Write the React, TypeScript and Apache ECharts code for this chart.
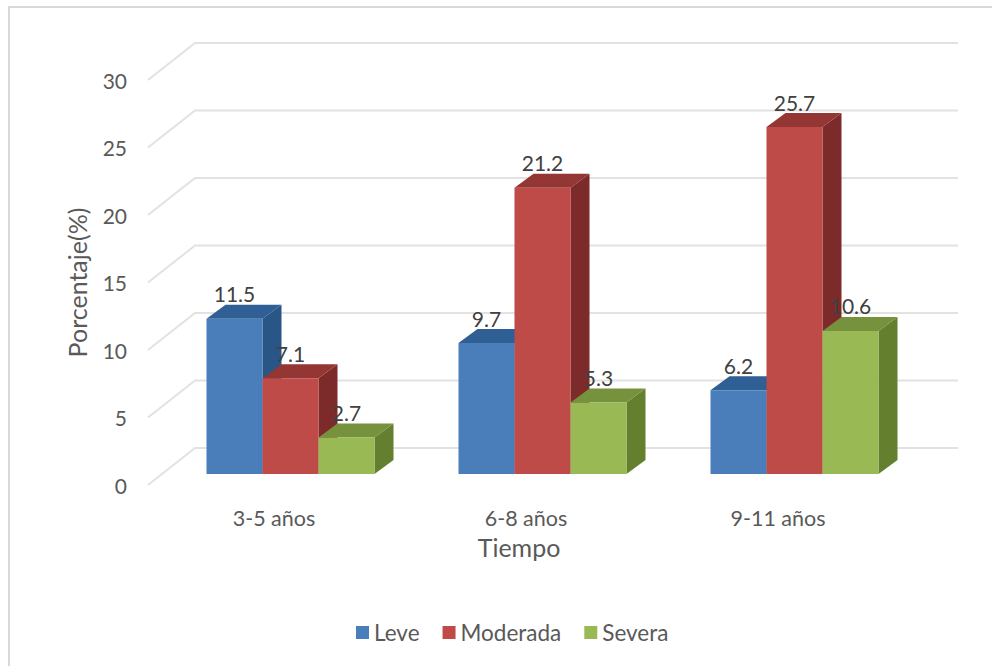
import React, { useEffect, useRef } from "react";
import * as echarts from "echarts";

const categories = ["3-5 años", "6-8 años", "9-11 años"];
const leve = [11.5, 9.7, 6.2];
const moderada = [7.1, 21.2, 25.7];
const severa = [2.7, 5.3, 10.6];
const yTicks = [0, 5, 10, 15, 20, 25, 30];

const FONT = "Lato";
const WALL_DX = 47;
const WALL_DY = -37;
const WALL_END = 958;
const BAR_SHIFT_X = 16.5;
const BAR_SHIFT_Y = -11;
const BAR_DEPTH_X = 19;
const BAR_DEPTH_Y = -14;
const BAR_BAND_RATIO = 56 / 252;

// Back wall and side wall rules of the pseudo-3D plot box.
function renderWallLine(params: any, api: any) {
  const y = api.coord([0, api.value(1)])[1];
  const left = params.coordSys.x;
  return {
    type: "polyline",
    silent: true,
    shape: {
      points: [
        [left, y],
        [left + WALL_DX, y + WALL_DY],
        [WALL_END, y + WALL_DY],
      ],
    },
    style: { fill: "none", stroke: "#E2E2E2", lineWidth: 2 },
  };
}

// Returns a renderItem drawing one extruded bar: front, top and side faces plus its value.
function barRenderer(slot: number, front: string, top: string, side: string) {
  return (_params: any, api: any) => {
    const cat = api.value(0);
    const value = api.value(1);
    const width = api.size([1, 0])[0] * BAR_BAND_RATIO;
    const centre = api.coord([cat, value])[0] + BAR_SHIFT_X + slot * width;
    const x0 = centre - width / 2;
    const x1 = centre + width / 2;
    const yTop = api.coord([cat, value])[1] + BAR_SHIFT_Y;
    const yBase = api.coord([cat, 0])[1] + BAR_SHIFT_Y;
    const dx = BAR_DEPTH_X;
    const dy = BAR_DEPTH_Y;
    return {
      type: "group",
      children: [
        {
          type: "polygon",
          shape: { points: [[x1, yTop], [x1 + dx, yTop + dy], [x1 + dx, yBase + dy], [x1, yBase]] },
          style: { fill: side },
        },
        {
          type: "polygon",
          shape: { points: [[x0, yTop], [x0 + dx, yTop + dy], [x1 + dx, yTop + dy], [x1, yTop]] },
          style: { fill: top },
        },
        {
          type: "rect",
          shape: { x: x0, y: yTop, width: x1 - x0, height: yBase - yTop },
          style: { fill: front },
        },
        {
          type: "text",
          style: {
            text: value.toFixed(1),
            x: centre,
            y: yTop - 25,
            align: "center",
            verticalAlign: "middle",
            fill: "#404040",
            fontSize: 21,
            fontFamily: FONT,
          },
        },
      ],
    };
  };
}

function barSeries(name: string, values: number[], slot: number, colors: string[]) {
  return {
    name,
    type: "custom",
    clip: false,
    itemStyle: { color: colors[0] },
    data: values.map((v, i) => [i, v]),
    encode: { x: 0, y: 1 },
    renderItem: barRenderer(slot, colors[0], colors[1], colors[2]),
  };
}

export default function App() {
  const ref = useRef<HTMLDivElement>(null);

  useEffect(() => {
    const chart = echarts.init(ref.current, null, { renderer: "svg" });
    chart.setOption({
      animation: false,
      backgroundColor: "#FFFFFF",
      textStyle: { fontFamily: FONT },
      grid: { left: 148, top: 80, width: 756, height: 405, containLabel: false },
      graphic: [
        {
          type: "rect",
          silent: true,
          z: -1,
          shape: { x: 9, y: 7, width: 1100, height: 800 },
          style: { fill: "none", stroke: "#D9D9D9", lineWidth: 2 },
        },
      ],
      legend: {
        data: ["Leve", "Moderada", "Severa"],
        left: 351,
        top: 616,
        icon: "rect",
        itemWidth: 13,
        itemHeight: 13,
        itemGap: 23,
        textStyle: { color: "#595959", fontSize: 22.5, fontFamily: FONT },
      },
      xAxis: {
        type: "category",
        data: categories,
        name: "Tiempo",
        nameLocation: "middle",
        nameGap: 49,
        nameTextStyle: { color: "#595959", fontSize: 25, fontFamily: FONT, padding: [0, 14, 0, 0] },
        axisLine: { show: false },
        axisTick: { show: false },
        splitLine: { show: false },
        axisLabel: { color: "#595959", fontSize: 21.5, fontFamily: FONT, margin: 22 },
      },
      yAxis: {
        type: "value",
        min: 0,
        max: 30,
        interval: 5,
        name: "Porcentaje(%)",
        nameLocation: "middle",
        nameGap: 59,
        nameTextStyle: { color: "#595959", fontSize: 25, fontFamily: FONT },
        axisLine: { show: false },
        axisTick: { show: false },
        splitLine: { show: false },
        axisLabel: { color: "#595959", fontSize: 21, fontFamily: FONT, margin: 21, padding: [4, 0, 0, 0] },
      },
      series: [
        {
          name: "rules",
          type: "custom",
          clip: false,
          silent: true,
          data: yTicks.map((v) => [0, v]),
          encode: { x: 0, y: 1 },
          renderItem: renderWallLine,
        },
        barSeries("Leve", leve, -1, ["#4A7EBB", "#2F5F94", "#2A5587"]),
        barSeries("Moderada", moderada, 0, ["#BE4B48", "#943634", "#7D2B2A"]),
        barSeries("Severa", severa, 1, ["#98B954", "#76923C", "#64802F"]),
      ],
    });
    return () => chart.dispose();
  }, []);

  return (
    <div
      ref={ref}
      style={{ position: "absolute", left: 0, top: 0, width: 992, height: 666 }}
    />
  );
}
